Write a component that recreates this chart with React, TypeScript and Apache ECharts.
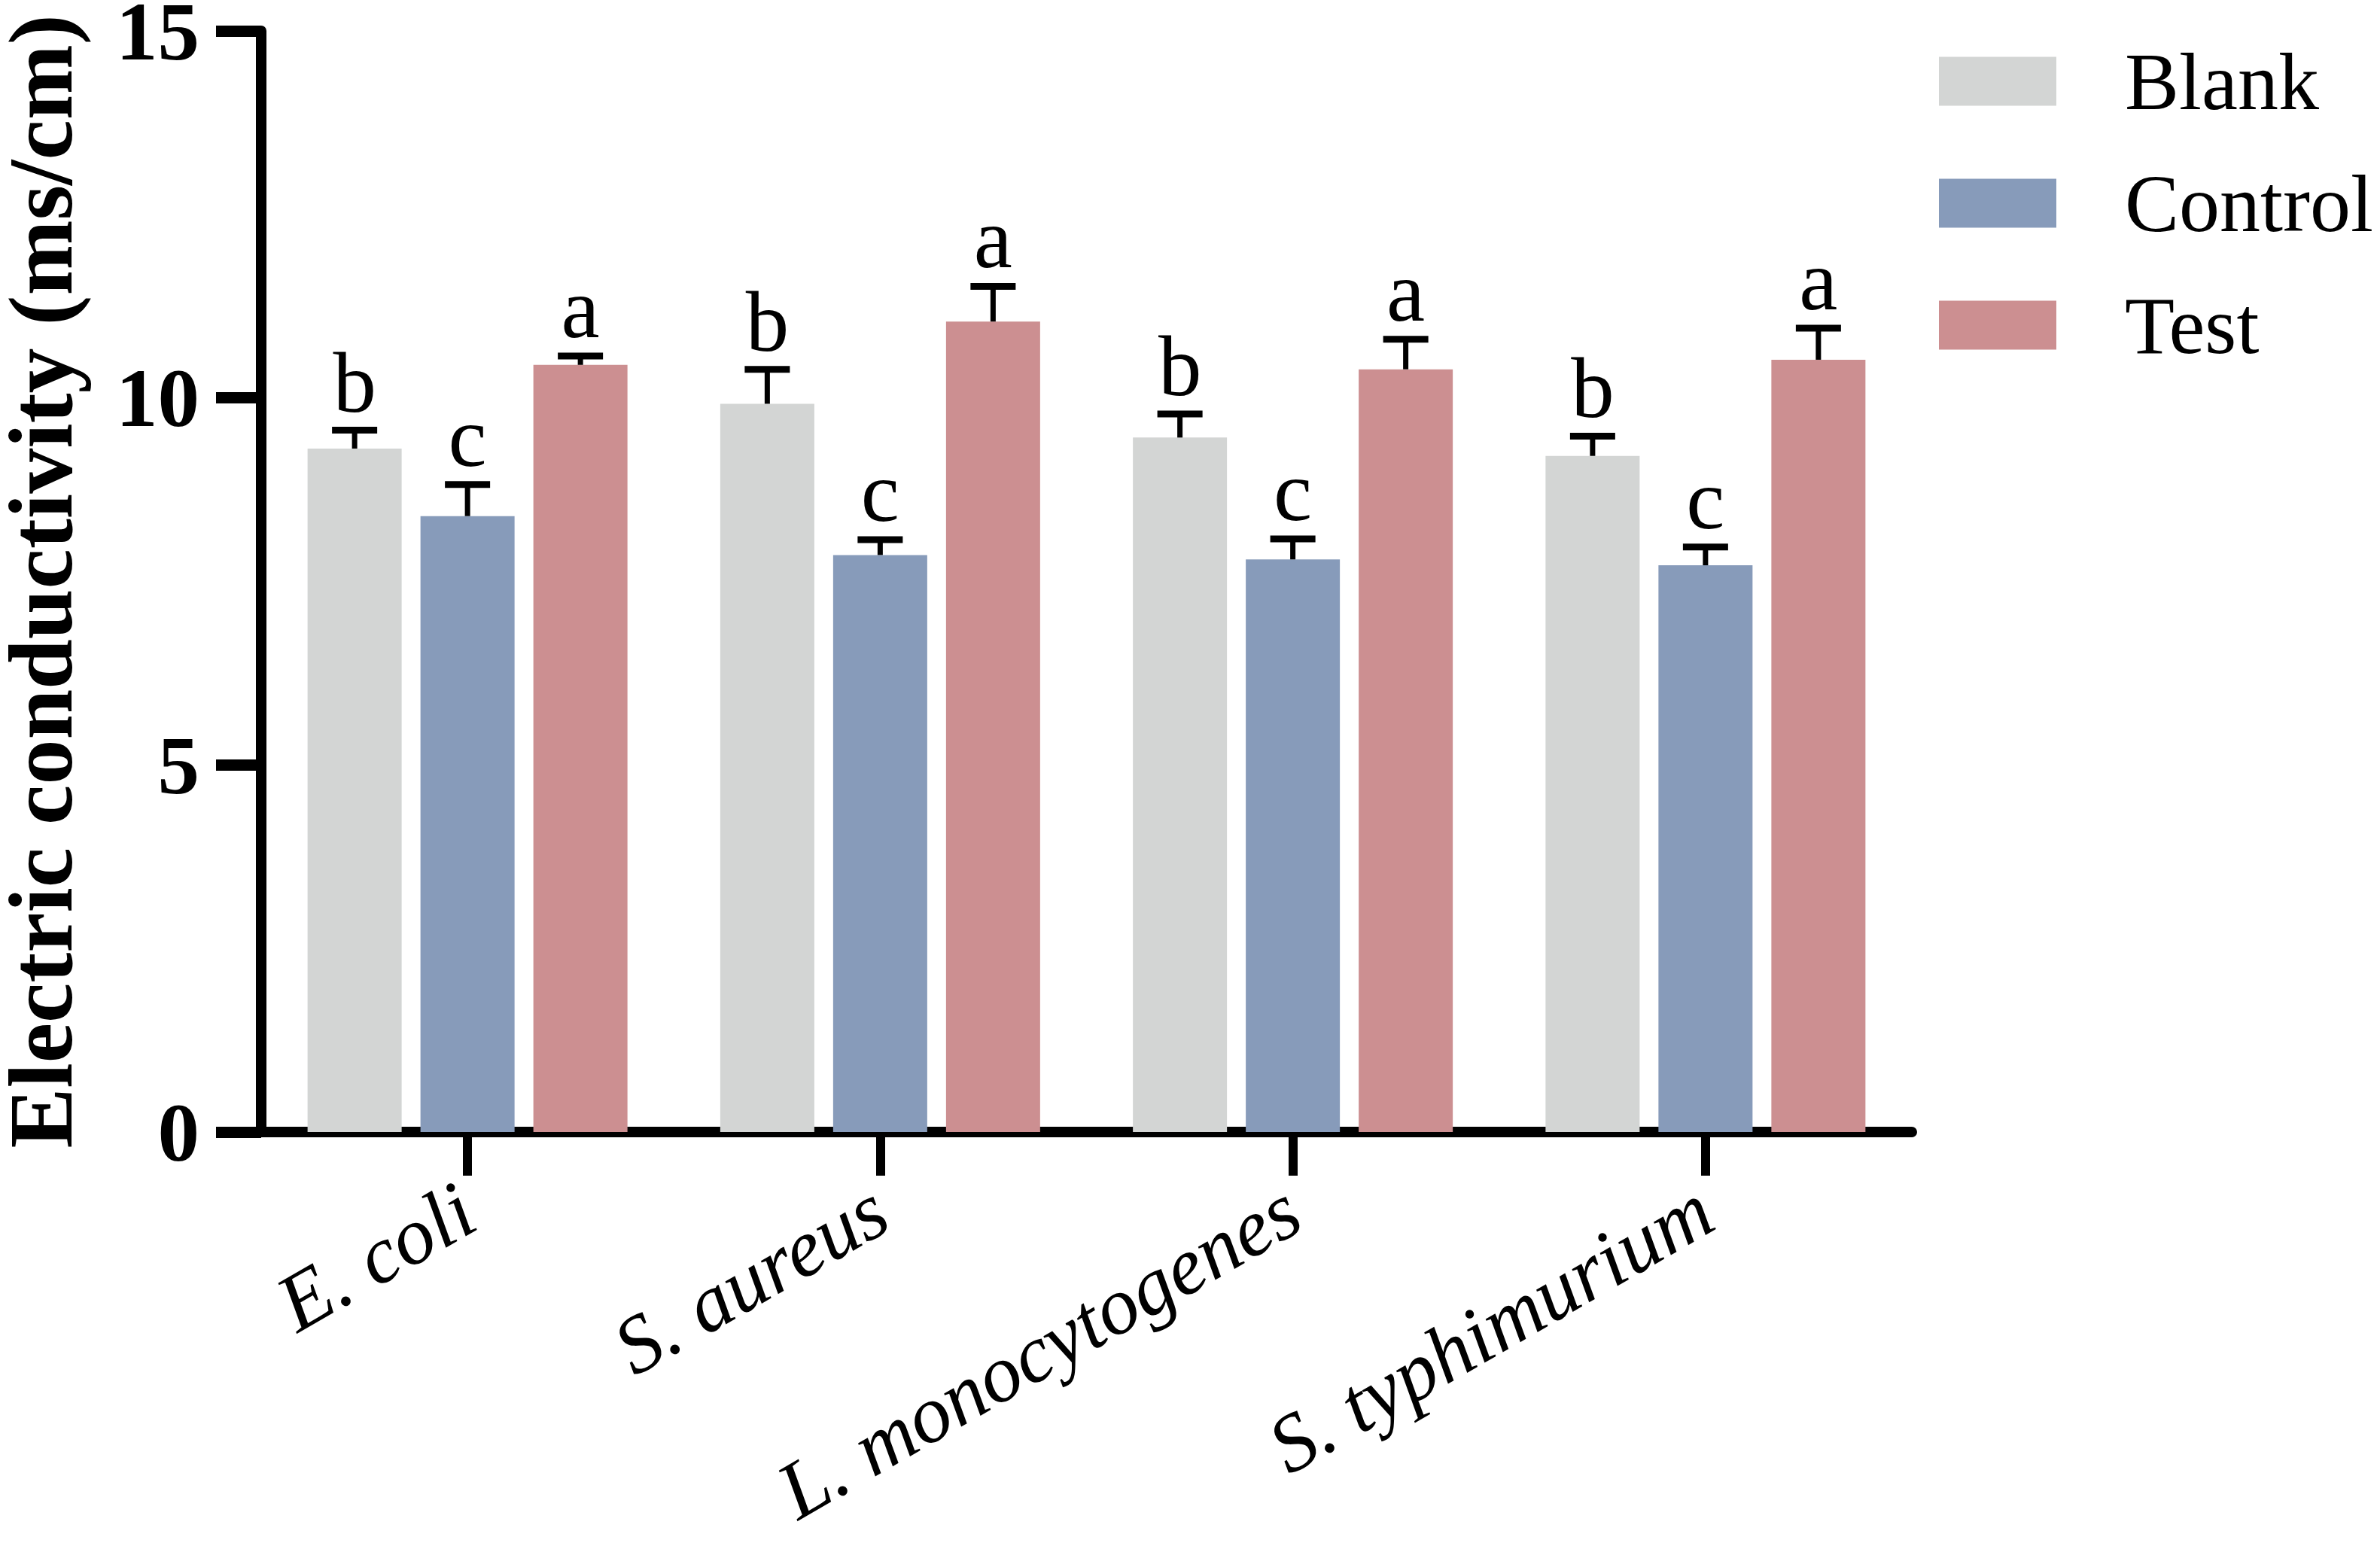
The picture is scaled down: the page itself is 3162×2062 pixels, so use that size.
import React, { useEffect, useRef } from "react";
import * as echarts from "echarts";

const categories = ["E. coli", "S. aureus", "L. monocytogenes", "S. typhimurium"];
const seriesNames = ["Blank", "Control", "Test"];
const blankMeans = [9.31, 9.92, 9.46, 9.21];
const blankSD = [0.25, 0.47, 0.32, 0.27];
const blankLetters = ["b", "b", "b", "b"];
const controlMeans = [8.39, 7.86, 7.8, 7.72];
const controlSD = [0.43, 0.21, 0.28, 0.25];
const controlLetters = ["c", "c", "c", "c"];
const testMeans = [10.45, 11.04, 10.39, 10.52];
const testSD = [0.12, 0.48, 0.41, 0.43];
const testLetters = ["a", "a", "a", "a"];
const yTicks = [0, 5, 10, 15];

const colors = ["#D3D5D4", "#879BBA", "#CC8F91"];
const FONT = "'Liberation Serif', 'Times New Roman', serif";
const BAR_W = 125;
const BAR_GAP = 0.2;

export default function App() {
  const ref = useRef<HTMLDivElement>(null);
  useEffect(() => {
    if (!ref.current) return;
    const chart = echarts.init(ref.current, undefined, { renderer: "svg" });
    const means = [blankMeans, controlMeans, testMeans];
    const sds = [blankSD, controlSD, testSD];
    const letters = [blankLetters, controlLetters, testLetters];

    const barSeries = seriesNames.map((name, i) => ({
      name,
      type: "bar",
      data: means[i],
      barWidth: BAR_W,
      barGap: BAR_GAP * 100 + "%",
      itemStyle: { color: colors[i] },
      z: 2,
    }));

    const errSeries = seriesNames.map((name, i) => ({
      name: name + "-err",
      type: "custom",
      z: 3,
      data: means[i].map((m, k) => [k, m, sds[i][k], letters[i][k]]),
      renderItem: (params: any, api: any) => {
        const k = api.value(0);
        const m = api.value(1);
        const sd = api.value(2);
        const letter = letters[i][k];
        const base = api.coord([k, m]);
        const top = api.coord([k, m + sd]);
        const off = (i - 1) * BAR_W * (1 + BAR_GAP);
        const cx = base[0] + off;
        const capHalf = 30;
        return {
          type: "group",
          children: [
            {
              type: "line",
              shape: { x1: cx, y1: base[1], x2: cx, y2: top[1] },
              style: { stroke: "#000", lineWidth: 7 },
            },
            {
              type: "line",
              shape: { x1: cx - capHalf, y1: top[1], x2: cx + capHalf, y2: top[1] },
              style: { stroke: "#000", lineWidth: 9 },
            },
            {
              type: "text",
              style: {
                text: letter,
                x: cx,
                y: top[1] - 6,
                align: "center",
                verticalAlign: "bottom",
                fontSize: 115,
                fontFamily: FONT,
                fill: "#000",
              },
            },
          ],
        };
      },
    }));

    chart.setOption({
      animation: false,
      backgroundColor: "#fff",
      legend: {
        data: seriesNames,
        orient: "vertical",
        left: 2576,
        top: 54,
        itemWidth: 156,
        itemHeight: 65,
        itemGap: 54,
        icon: "rect",
        padding: 0,
        textStyle: {
          fontSize: 108,
          fontFamily: FONT,
          color: "#000",
          padding: [0, 0, 0, 86],
        },
      },
      grid: {
        left: 347,
        right: 622,
        top: 41,
        bottom: 558,
        containLabel: false,
        outerBoundsMode: "none",
      },
      xAxis: {
        type: "category",
        data: categories,
        axisLine: { show: true, lineStyle: { color: "#000", width: 14 } },
        axisTick: { show: true, alignWithLabel: true, length: 58, lineStyle: { color: "#000", width: 12 } },
        axisLabel: {
          interval: 0,
          rotate: 30,
          margin: 95,
          fontSize: 108,
          fontStyle: "italic",
          fontFamily: FONT,
          color: "#000",
        },
      },
      yAxis: {
        type: "value",
        min: 0,
        max: 15,
        interval: 5,
        name: "Electric conductivity (ms/cm)",
        nameLocation: "middle",
        nameGap: 243,
        nameTextStyle: { fontSize: 120, lineHeight: 100, fontWeight: "bold", fontFamily: FONT, color: "#000" },
        splitLine: { show: false },
        axisLine: { show: true, lineStyle: { color: "#000", width: 14 } },
        axisTick: { show: true, length: 60, lineStyle: { color: "#000", width: 15 } },
        axisLabel: {
          margin: 82,
          fontSize: 111,
          lineHeight: 80,
          fontWeight: "bold",
          fontFamily: FONT,
          color: "#000",
          formatter: (v: number) => (yTicks.includes(v) ? String(v) : ""),
        },
      },
      series: [...barSeries, ...errSeries],
    });
    return () => chart.dispose();
  }, []);
  return (
    <div
      ref={ref}
      style={{ position: "fixed", left: 0, top: 0, width: "3162px", height: "2062px", background: "#fff" }}
    />
  );
}
